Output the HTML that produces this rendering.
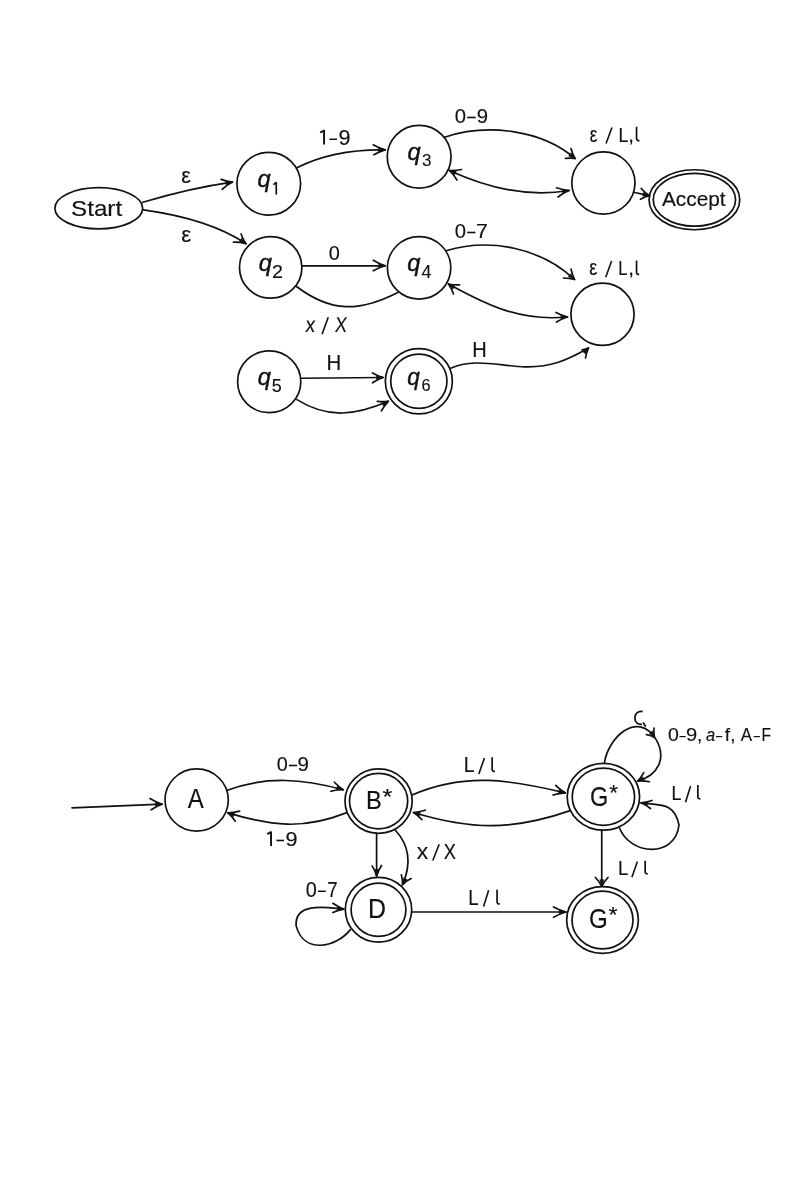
<!DOCTYPE html>
<html><head><meta charset="utf-8"><style>
html,body{margin:0;padding:0;background:#fff;}
svg{display:block;will-change:transform;}
</style></head><body>
<svg width="800" height="1200" viewBox="0 0 800 1200">
<rect width="800" height="1200" fill="#fff"/>
<g fill="none" stroke="#111" stroke-width="1.7" stroke-linecap="round" stroke-linejoin="round">
<ellipse cx="98.75" cy="208.3" rx="43.9" ry="20.6"/>
<ellipse cx="268.75" cy="183.75" rx="31.85" ry="31.35"/>
<ellipse cx="419.15" cy="156.75" rx="31.9" ry="31.35"/>
<ellipse cx="603.4" cy="183" rx="31.6" ry="31.1"/>
<ellipse cx="694.4" cy="199.75" rx="45.35" ry="30.0"/>
<ellipse cx="694.4" cy="199.75" rx="41.15" ry="26.4"/>
<ellipse cx="270.7" cy="267.4" rx="31.2" ry="30.8"/>
<ellipse cx="419.1" cy="267.85" rx="31.7" ry="31.25"/>
<ellipse cx="602.5" cy="314.3" rx="31.6" ry="31.1"/>
<ellipse cx="269.2" cy="381.75" rx="31.6" ry="30.85"/>
<ellipse cx="418.85" cy="381.2" rx="33.5" ry="32.65"/>
<ellipse cx="418.85" cy="381.2" rx="28.1" ry="27.15"/>
<path d="M142.8,202.3 C172.1,193.5 202.0,186.3 232.4,182.1"/>
<path d="M221.1,179.35 Q226.93,181.61 232.4,182.1 Q227.12,184.79 222.2,189.25"/>
<path fill="#111" stroke-width="0.6" d="M232.40,182.10 L226.41,185.26 L225.65,181.54 Z"/>
<path d="M143.4,209.9 C178.6,214.8 215.9,223.6 245.9,243.6"/>
<path d="M233.5,242.2 Q240.19,242.14 245.9,243.6 Q243.01,239.51 241.1,233.9"/>
<path fill="#111" stroke-width="0.6" d="M245.90,243.60 L239.41,241.67 L241.47,238.48 Z"/>
<path d="M296.9,167.8 C323.9,154.0 355.0,149.4 385.1,149.9"/>
<path d="M373.2,144.85 Q379.14,148.27 385.1,149.9 Q379.51,151.43 373.9,154.75"/>
<path fill="#111" stroke-width="0.6" d="M385.10,149.90 L378.58,151.74 L378.62,147.94 Z"/>
<path d="M444.5,137.2 C486.4,123.1 541.3,129.4 575.0,158.5"/>
<path d="M565.5,158.3 Q570.79,157.68 575.0,158.5 Q572.46,154.22 571,148.5"/>
<path fill="#111" stroke-width="0.6" d="M575.00,158.50 L568.67,156.10 L570.96,153.07 Z"/>
<path d="M449.5,170.5 C486.6,187.6 528.2,197.7 569.0,190.5"/>
<path d="M461.5,169.5 Q455.14,170.83 449.5,170.5 Q453.61,174.42 457,180"/>
<path fill="#111" stroke-width="0.6" d="M449.50,170.50 L456.22,171.36 L454.70,174.84 Z"/>
<path d="M556.5,187.8 Q562.89,190.04 569,190.5 Q563.36,192.86 558,197"/>
<path fill="#111" stroke-width="0.6" d="M569.00,190.50 L562.89,193.41 L562.28,189.66 Z"/>
<path d="M634.5,192.5 L649.5,195.7"/>
<path d="M641.25,188.5 Q645.19,192.98 649.5,195.7 Q645.18,196.62 640.5,199.3"/>
<path fill="#111" stroke-width="0.6" d="M649.50,195.70 L642.75,196.23 L643.53,192.51 Z"/>
<path d="M302,265.8 L385.25,265.8"/>
<path d="M373.25,260.25 Q379.23,263.92 385.25,265.8 Q379.27,267.38 373.25,270.75"/>
<path fill="#111" stroke-width="0.6" d="M385.25,265.80 L378.70,267.54 L378.80,263.74 Z"/>
<path d="M296.2,286.2 C331.4,313.0 359.4,311.8 397.9,292.4"/>
<path d="M446.0,250.8 C489.9,237.4 540.8,247.8 574.5,279.5"/>
<path d="M563.5,278 Q569.57,278.06 574.5,279.5 Q572.18,274.94 571,269"/>
<path fill="#111" stroke-width="0.6" d="M574.50,279.50 L568.28,276.82 L570.70,273.89 Z"/>
<path d="M448.5,284.0 C488.1,305.8 520.8,321.6 567.5,317.0"/>
<path d="M459.5,284.8 Q453.50,285.15 448.5,284 Q451.50,288.25 453.5,294"/>
<path fill="#111" stroke-width="0.6" d="M448.50,284.00 L454.95,286.06 L452.82,289.21 Z"/>
<path d="M556,312.5 Q561.77,315.65 567.5,317 Q561.98,318.60 556.5,322"/>
<path fill="#111" stroke-width="0.6" d="M567.50,317.00 L561.04,319.04 L560.96,315.24 Z"/>
<path d="M300.8,378.25 L383,377.5"/>
<path d="M372.5,373 Q377.78,376.15 383,377.5 Q377.72,379.23 372.5,382.75"/>
<path fill="#111" stroke-width="0.6" d="M383.00,377.50 L376.57,379.63 L376.44,375.83 Z"/>
<path d="M296.9,399.6 C328.3,419.2 356.0,415.2 388.3,401.3"/>
<path d="M377.3,401.3 Q383.23,402.09 388.3,401.3 Q384.42,405.31 381.4,410.9"/>
<path fill="#111" stroke-width="0.6" d="M388.30,401.30 L383.47,406.05 L381.67,402.70 Z"/>
<path d="M450.0,368.5 C473.9,357.5 500.2,366.3 525.0,366.8 C550.4,367.5 567.1,360.3 588.5,348.0"/>
<path d="M582,349.8 Q585.95,349.46 588.5,348 Q586.30,352.44 585.5,358"/>
<path fill="#111" stroke-width="0.6" d="M588.50,348.00 L585.90,354.25 L582.94,351.87 Z"/>
<ellipse cx="196.65" cy="800" rx="31.65" ry="31.1"/>
<ellipse cx="378.6" cy="801.1" rx="33.6" ry="32.2"/>
<ellipse cx="378.6" cy="801.1" rx="29.1" ry="27.7"/>
<ellipse cx="603.4" cy="796.75" rx="36.2" ry="33.45"/>
<ellipse cx="603.4" cy="796.75" rx="31.2" ry="28.55"/>
<ellipse cx="378.5" cy="909.8" rx="33.2" ry="32.4"/>
<ellipse cx="378.5" cy="909.8" rx="27.4" ry="26.6"/>
<ellipse cx="602.5" cy="920.05" rx="35.85" ry="33.35"/>
<ellipse cx="602.5" cy="920.05" rx="30.5" ry="28.85"/>
<path d="M72,807.8 L162,804.2"/>
<path d="M150,798.5 Q155.99,802.25 162,804.2 Q156.61,806.08 151.2,809.75"/>
<path fill="#111" stroke-width="0.6" d="M162.00,804.20 L155.49,806.06 L155.51,802.26 Z"/>
<path d="M227.4,790.3 C266.7,775.4 303.8,779.3 343.2,789.7"/>
<path d="M334.4,782.25 Q338.56,786.84 343.2,789.7 Q337.29,789.58 330.9,791.2"/>
<path fill="#111" stroke-width="0.6" d="M343.20,789.70 L336.43,789.76 L337.46,786.11 Z"/>
<path d="M346.2,812.9 C303.1,830.0 271.3,825.9 227.9,812.9"/>
<path d="M239.7,811.1 Q233.51,812.85 227.9,812.9 Q231.89,816.20 235.3,821.2"/>
<path fill="#111" stroke-width="0.6" d="M227.90,812.90 L234.67,813.18 L233.45,816.78 Z"/>
<path d="M411.9,795.0 C465.2,771.8 510.8,780.0 565.2,792.8"/>
<path d="M555.7,785.4 Q560.24,789.98 565.2,792.8 Q559.31,793.02 553,795"/>
<path fill="#111" stroke-width="0.6" d="M565.20,792.80 L558.44,793.13 L559.32,789.44 Z"/>
<path d="M569.5,810.9 C512.1,830.7 471.2,830.0 413.5,812.5"/>
<path d="M425.2,810.2 Q419.14,812.22 413.5,812.5 Q417.96,815.23 422,819.7"/>
<path fill="#111" stroke-width="0.6" d="M413.50,812.50 L420.26,812.19 L419.37,815.88 Z"/>
<path d="M376.6,833.25 L376.6,876"/>
<path d="M372.1,865.9 Q375.25,870.97 376.6,876 Q378.15,870.73 381.5,865.5"/>
<path fill="#111" stroke-width="0.6" d="M376.60,876.00 L374.83,869.46 L378.63,869.54 Z"/>
<path d="M395.4,830.2 C410.4,846.6 411.2,864.9 402.5,884.6"/>
<path d="M401.4,874.9 Q402.76,880.14 402.5,884.6 Q405.99,881.21 411.1,878.6"/>
<path fill="#111" stroke-width="0.6" d="M402.50,884.60 L403.59,877.92 L407.02,879.55 Z"/>
<path d="M350.4,929.6 C335.8,948.0 303.5,954.2 296.1,925.6 C294.5,901.0 329.2,907.8 343.8,909.2"/>
<path d="M332.9,903.3 Q338.24,907.14 343.8,909.2 Q338.46,909.96 332.9,912.5"/>
<path fill="#111" stroke-width="0.6" d="M343.80,909.20 L337.12,910.32 L337.57,906.54 Z"/>
<path d="M411.75,912 L565.9,912"/>
<path d="M553.5,907 Q559.71,910.40 565.9,912 Q559.69,913.73 553.5,917.25"/>
<path fill="#111" stroke-width="0.6" d="M565.90,912.00 L559.42,913.97 L559.38,910.17 Z"/>
<path d="M601.75,831.25 L601.75,886.25"/>
<path d="M595.5,877.5 Q599.52,881.88 601.75,886.25 Q603.98,881.88 608,877.5"/>
<path fill="#111" stroke-width="0.6" d="M601.75,886.25 L599.85,879.75 L603.65,879.75 Z"/>
<path d="M604.4,763.3 C607.3,738.9 637.3,709.0 656.0,739.4 C666.9,758.1 658.2,775.4 637.6,781.1"/>
<path d="M643.75,772.6 Q641.04,777.67 637.6,781.1 Q643.14,780.60 649.4,781.75"/>
<path fill="#111" stroke-width="0.6" d="M637.60,781.10 L642.79,776.75 L644.32,780.24 Z"/>
<path d="M646.5,734.7 Q651.24,735.59 654.5,737.5 Q653.51,733.31 654,728.1"/>
<path fill="#111" stroke-width="0.6" d="M654.50,737.50 L649.23,733.25 L652.34,731.08 Z"/>
<path d="M643.4,723.0 L645.3,726.0"/>
<path d="M619.5,828.0 C630.3,855.7 675.4,858.1 679.0,825.0 C674.2,801.4 659.3,805.6 641.0,802.8"/>
<path d="M652,800.5 Q646.35,802.54 641,802.8 Q645.90,804.76 650.5,808.5"/>
<path fill="#111" stroke-width="0.6" d="M641.00,802.80 L647.72,801.99 L647.10,805.74 Z"/>
</g>
<g fill="#111" stroke="#111" stroke-width="0.15" font-family="'Liberation Sans', sans-serif" style="font-kerning:none">
<text transform="translate(72.1,216.0) scale(1.0757,1)" x="-1.023" y="0" font-size="22.53">Start</text>
<text transform="translate(662.0,206.2) scale(1.0024,1)" x="-0.041" y="0" font-size="20.79">Accept</text>
<text transform="translate(258.3,187.3) scale(0.9921,1)" x="-0.804" y="0" font-size="23.85" font-style="italic" stroke-width="0.4">q</text>
<path fill="none" stroke-width="1.7" stroke-linecap="butt" d="M276.25,182.00 L276.25,194.60 M276.55,182.20 L273.40,184.60"/>
<text transform="translate(408.3,159.5) scale(0.9921,1)" x="-0.804" y="0" font-size="23.85" font-style="italic" stroke-width="0.4">q</text>
<text transform="translate(422.75,166.0) scale(0.9816,1)" x="-0.659" y="0" font-size="17.30">3</text>
<text transform="translate(259.5,270.5) scale(0.9921,1)" x="-0.804" y="0" font-size="23.85" font-style="italic" stroke-width="0.4">q</text>
<text transform="translate(273,277.5) scale(1.1326,1)" x="-0.877" y="0" font-size="17.44">2</text>
<text transform="translate(408,270.5) scale(0.9921,1)" x="-0.804" y="0" font-size="23.85" font-style="italic" stroke-width="0.4">q</text>
<text transform="translate(422,277.5) scale(1.0155,1)" x="-0.404" y="0" font-size="17.59">4</text>
<text transform="translate(258.5,384.5) scale(0.9921,1)" x="-0.804" y="0" font-size="23.85" font-style="italic" stroke-width="0.4">q</text>
<text transform="translate(272.5,392.3) scale(1.0278,1)" x="-0.698" y="0" font-size="17.44">5</text>
<text transform="translate(408.1,384.9) scale(0.9474,1)" x="-0.804" y="0" font-size="23.85" font-style="italic" stroke-width="0.4">q</text>
<text transform="translate(422.4,391.2) scale(0.9397,1)" x="-0.878" y="0" font-size="17.30">6</text>
<text transform="translate(182.1,182.5) scale(1.0123,1)" x="-0.731" y="0" font-size="21.39">ε</text>
<text transform="translate(182.1,241.5) scale(0.9952,1)" x="-0.770" y="0" font-size="22.52">ε</text>
<path fill="none" stroke-width="1.9" stroke-linecap="butt" d="M324.05,130.00 L324.05,144.60 M324.35,130.20 L320.25,132.60"/>
<text transform="translate(329.5,144.6) scale(0.6360,1)" x="0.000" y="0" font-size="21.22">–</text>
<text transform="translate(339.5,144.6) scale(1.0202,1)" x="-0.995" y="0" font-size="21.22">9</text>
<text transform="translate(455.6,122.6) scale(0.9628,1)" x="-0.823" y="0" font-size="21.08">0</text>
<text transform="translate(467.2,122.6) scale(0.7173,1)" x="0.000" y="0" font-size="21.08">–</text>
<text transform="translate(477.8,122.6) scale(0.9656,1)" x="-0.988" y="0" font-size="21.08">9</text>
<text transform="translate(590.25,141.5) scale(0.7997,1)" x="-0.735" y="0" font-size="21.50">ε</text>
<path fill="none" stroke-width="1.6" stroke-linecap="butt" d="M606.05,143.45 L611.95,127.55"/>
<text transform="translate(619.9,141.5) scale(0.8626,1)" x="-1.693" y="0" font-size="20.64">L</text>
<text transform="translate(630.1871540099362,141.5) scale(1.0000,1)" x="-1.854" y="0" font-size="20.64">,</text>
<path fill="none" stroke-width="1.7" stroke-linecap="butt" d="M636.55,126.80 L636.55,138.80 Q636.65,140.90 639.45,140.70"/>
<text transform="translate(329.6,259.5) scale(0.9429,1)" x="-0.823" y="0" font-size="21.08">0</text>
<text transform="translate(305.3,332.0) skewX(-6) scale(0.8849,1)" x="-0.242" y="0" font-size="21.51">x</text>
<path fill="none" stroke-width="1.6" stroke-linecap="butt" d="M322.05,334.20 L328.25,317.30"/>
<text transform="translate(335.0,332.0) skewX(-6) scale(0.8201,1)" x="-0.483" y="0" font-size="21.51">X</text>
<text transform="translate(455.6,237.6) scale(0.9628,1)" x="-0.823" y="0" font-size="21.08">0</text>
<text transform="translate(467.2,237.6) scale(0.6916,1)" x="0.000" y="0" font-size="21.08">–</text>
<text transform="translate(477.2,237.6) scale(1.0124,1)" x="-1.081" y="0" font-size="21.08">7</text>
<text transform="translate(589.9,275.2) scale(0.8412,1)" x="-0.735" y="0" font-size="21.50">ε</text>
<path fill="none" stroke-width="1.6" stroke-linecap="butt" d="M605.70,277.20 L611.60,260.90"/>
<text transform="translate(619.5,275.2) scale(0.8022,1)" x="-1.693" y="0" font-size="20.64">L</text>
<text transform="translate(629.9871540099361,275.2) scale(1.0000,1)" x="-1.854" y="0" font-size="20.64">,</text>
<path fill="none" stroke-width="1.7" stroke-linecap="butt" d="M636.55,260.40 L636.55,272.50 Q636.65,274.60 639.20,274.40"/>
<text transform="translate(328.1,370.3) scale(0.9552,1)" x="-1.753" y="0" font-size="21.37">H</text>
<text transform="translate(473.9,356.8) scale(0.9321,1)" x="-1.765" y="0" font-size="21.51">H</text>
<text transform="translate(187.9,807.5) scale(0.8637,1)" x="-0.054" y="0" font-size="27.76">A</text>
<text transform="translate(367.9,809.0) scale(0.8949,1)" x="-2.170" y="0" font-size="26.45">B</text>
<text transform="translate(382.9,803.7) scale(1.1342,1)" x="-0.358" y="0" font-size="22.20">*</text>
<text transform="translate(591.25,805.5) scale(0.8674,1)" x="-1.363" y="0" font-size="27.11">G</text>
<text transform="translate(609.6,799.9) scale(1.0208,1)" x="-0.358" y="0" font-size="22.20">*</text>
<text transform="translate(370.0,917.6) scale(0.9293,1)" x="-2.206" y="0" font-size="26.89">D</text>
<text transform="translate(590.25,928.1) scale(0.8924,1)" x="-1.360" y="0" font-size="27.04">G</text>
<text transform="translate(608.8,922.4) scale(1.0523,1)" x="-0.358" y="0" font-size="22.20">*</text>
<text transform="translate(277.5,770.6) scale(0.9429,1)" x="-0.823" y="0" font-size="21.08">0</text>
<text transform="translate(289,770.6) scale(0.6831,1)" x="0.000" y="0" font-size="21.08">–</text>
<text transform="translate(298.5,770.6) scale(0.9758,1)" x="-0.988" y="0" font-size="21.08">9</text>
<path fill="none" stroke-width="1.9" stroke-linecap="butt" d="M271.05,831.50 L271.05,846.00 M271.35,831.70 L267.25,834.10"/>
<text transform="translate(276.5,846.0) scale(0.6404,1)" x="0.000" y="0" font-size="21.08">–</text>
<text transform="translate(286.5,846.0) scale(1.0272,1)" x="-0.988" y="0" font-size="21.08">9</text>
<text transform="translate(465.3,772.3) scale(0.9191,1)" x="-1.741" y="0" font-size="21.22">L</text>
<path fill="none" stroke-width="1.6" stroke-linecap="butt" d="M478.80,774.10 L484.45,757.90"/>
<path fill="none" stroke-width="1.7" stroke-linecap="butt" d="M492.15,757.20 L492.15,769.50 Q492.25,771.60 494.90,771.40"/>
<text transform="translate(416.9,858.7) scale(1.0697,1)" x="-0.242" y="0" font-size="21.51">x</text>
<path fill="none" stroke-width="1.6" stroke-linecap="butt" d="M432.80,860.45 L439.20,844.20"/>
<text transform="translate(444.1,858.7) scale(0.8499,1)" x="-0.483" y="0" font-size="21.51">X</text>
<text transform="translate(306.5,897.3) scale(0.9365,1)" x="-0.829" y="0" font-size="21.22">0</text>
<text transform="translate(318,897.3) scale(0.6572,1)" x="0.000" y="0" font-size="21.22">–</text>
<text transform="translate(328.25,897.3) scale(0.8811,1)" x="-1.088" y="0" font-size="21.22">7</text>
<text transform="translate(469.8,904.8) scale(0.8704,1)" x="-1.753" y="0" font-size="21.37">L</text>
<path fill="none" stroke-width="1.6" stroke-linecap="butt" d="M483.60,906.50 L488.60,890.30"/>
<path fill="none" stroke-width="1.7" stroke-linecap="butt" d="M497.05,889.70 L497.05,902.00 Q497.15,904.10 499.70,903.90"/>
<text transform="translate(672.9,799.7) scale(0.8687,1)" x="-1.681" y="0" font-size="20.49">L</text>
<path fill="none" stroke-width="1.6" stroke-linecap="butt" d="M685.50,802.20 L690.60,785.90"/>
<path fill="none" stroke-width="1.7" stroke-linecap="butt" d="M697.85,785.10 L697.85,796.90 Q697.95,799.00 700.40,798.80"/>
<text transform="translate(619.6,874.7) scale(0.9420,1)" x="-1.610" y="0" font-size="19.62">L</text>
<path fill="none" stroke-width="1.6" stroke-linecap="butt" d="M631.90,877.20 L637.40,861.50"/>
<path fill="none" stroke-width="1.7" stroke-linecap="butt" d="M645.15,860.80 L645.15,871.90 Q645.25,874.00 647.70,873.80"/>
<path fill="none" stroke-width="1.8" stroke-linecap="butt" d="M642.6,711.5 C637.2,711.0 634.9,714.0 634.9,718.0 C634.9,722.5 637.4,724.5 642.0,724.3"/>
<text transform="translate(668.8,741.2) scale(1.0296,1)" x="-0.738" y="0" font-size="18.90">0</text>
<text transform="translate(679.4,741.2) scale(0.5905,1)" x="0.000" y="0" font-size="18.90">–</text>
<text transform="translate(687,741.2) scale(1.0655,1)" x="-0.886" y="0" font-size="18.90">9</text>
<text transform="translate(698.6227466288148,741.2) scale(1.0000,1)" x="-1.698" y="0" font-size="18.90">,</text>
<text transform="translate(706.25,741.2) scale(0.8741,1)" x="-0.424" y="0" font-size="18.90" font-style="italic">a</text>
<text transform="translate(715.9,741.2) scale(0.5905,1)" x="0.000" y="0" font-size="18.90">–</text>
<text transform="translate(724.9450319375444,741.2) scale(1.0000,1)" x="-0.268" y="0" font-size="18.90">f</text>
<text transform="translate(731.8727466288148,741.2) scale(1.0000,1)" x="-1.698" y="0" font-size="18.90">,</text>
<text transform="translate(740.7,741.2) scale(0.9019,1)" x="-0.037" y="0" font-size="18.90">A</text>
<text transform="translate(753.75,741.2) scale(0.5857,1)" x="0.000" y="0" font-size="18.90">–</text>
<text transform="translate(762.7,741.2) scale(0.8175,1)" x="-1.550" y="0" font-size="18.90">F</text>
</g>
</svg>
</body></html>
